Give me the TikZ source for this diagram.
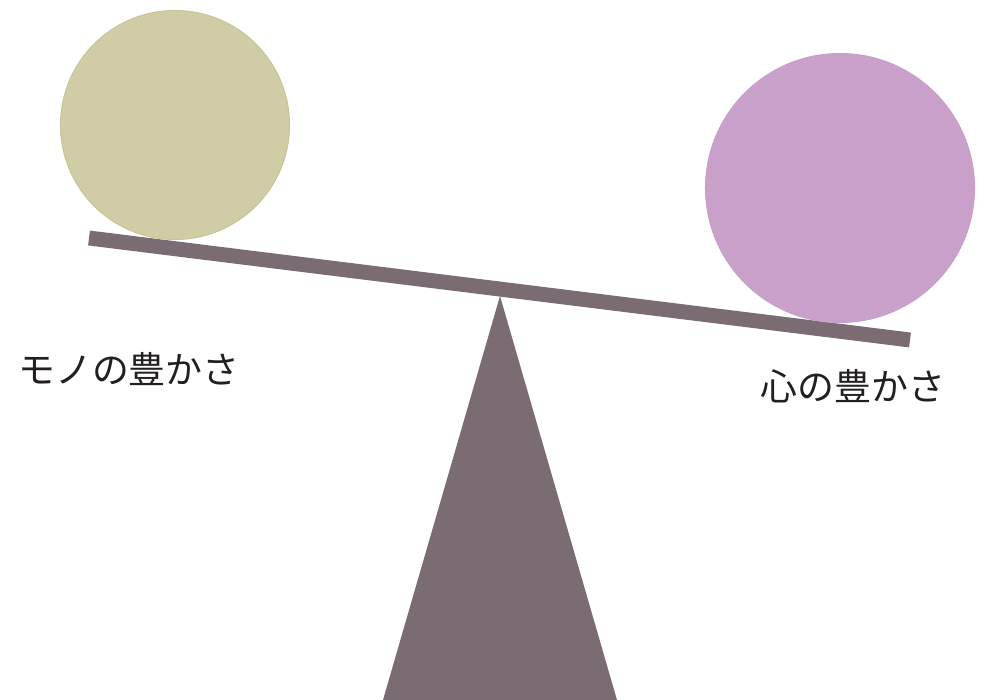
\documentclass[tikz,border=0pt]{standalone}
\usepackage{fontspec}
\newfontfamily\jpfont{Noto Sans CJK JP}
\usepackage{tikz}
\usetikzlibrary{positioning, calc}
\definecolor{goodsfill}{HTML}{D0CCA5}
\definecolor{goodsedge}{HTML}{C9C59A}
\definecolor{heartfill}{HTML}{C8A0CA}
\definecolor{beamgray}{HTML}{7A6C72}
\definecolor{dark}{HTML}{231F20}
\tikzset{
    weight/.style={
        circle, draw=#1, fill=#1, inner sep=0pt, line width=0.6pt
    },
    beam/.style={
        line width=8.5pt, color=beamgray
    },
    fulcrum/.style={
        fill=beamgray, draw=none
    },
    sidelab/.style={
        font=\jpfont\fontsize{21pt}{25pt}\selectfont, text=dark, inner sep=0pt
    },
}
\begin{document}
\begin{tikzpicture}[x=0.02cm, y=-0.02cm]

    % Frame
    \useasboundingbox (0,0) rectangle (992,700);

    % Fulcrum
    \coordinate (apex) at (500,296);
    \coordinate (baseL) at (383,700);
    \coordinate (baseR) at (617,700);
    \fill[fulcrum] (apex) -- (baseL) -- (baseR) -- cycle;

    % Beam
    \coordinate (beamL) at (89,238);
    \coordinate (beamR) at (910,340);
    \draw[beam] (beamL) -- (beamR);

    % Weights
    \node[weight=goodsfill, draw=goodsedge, minimum size=229*0.02cm] (goods) at (175,125) {};
    \node[weight=heartfill, minimum size=269*0.02cm] (heart) at (840,188) {};

    % Labels
    \node[sidelab] (goodslab) at (129,369) {モノの豊かさ};
    \node[sidelab] (heartlab) at (853,386) {心の豊かさ};

\end{tikzpicture}
\end{document}
